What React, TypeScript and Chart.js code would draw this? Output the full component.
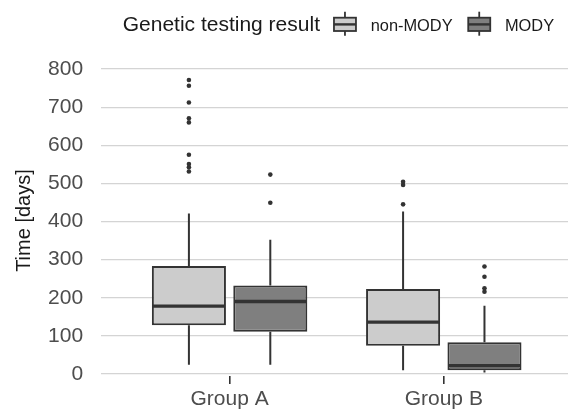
import React, { useEffect, useRef } from "react";
import { Chart, registerables } from "chart.js";

Chart.register(...registerables);

// ---- Data ----
const GROUPS = ["Group A", "Group B"];
const GROUP_POS = [1, 2];
const SERIES_NAMES = ["non-MODY", "MODY"];

const NON_MODY_LOW = [24, 10];
const NON_MODY_Q1 = [128, 74];
const NON_MODY_MEDIAN = [178, 136];
const NON_MODY_Q3 = [283, 223];
const NON_MODY_HIGH = [421, 426];
const NON_MODY_OUTLIERS = [
  [531, 542, 551, 575, 660, 671, 712, 756, 771],
  [445, 496, 504],
];

const MODY_LOW = [24, 4];
const MODY_Q1 = [111, 10];
const MODY_MEDIAN = [190, 22];
const MODY_Q3 = [232, 83];
const MODY_HIGH = [352, 179];
const MODY_OUTLIERS = [
  [449, 523],
  [216, 225, 255, 282],
];

const Y_TICKS = [0, 100, 200, 300, 400, 500, 600, 700, 800];

// ---- Styles ----
const FONT = "'Liberation Sans', Arial, sans-serif";
const LIGHT = "#cccccc";
const DARK = "#7f7f7f";
const LINE = "#333333";
const CAT_PCT = 0.76;
const BAR_PCT = 0.91;

const SERIES = [
  { name: SERIES_NAMES[0], fill: LIGHT, low: NON_MODY_LOW, q1: NON_MODY_Q1, med: NON_MODY_MEDIAN, q3: NON_MODY_Q3, high: NON_MODY_HIGH, out: NON_MODY_OUTLIERS },
  { name: SERIES_NAMES[1], fill: DARK, low: MODY_LOW, q1: MODY_Q1, med: MODY_MEDIAN, q3: MODY_Q3, high: MODY_HIGH, out: MODY_OUTLIERS },
];

const boxExtras = {
  id: "boxExtras",
  beforeDatasetsDraw(chart: any) {
    const ctx = chart.ctx;
    const y = chart.scales.y;
    ctx.save();
    ctx.strokeStyle = LINE;
    ctx.lineWidth = 2;
    SERIES.forEach((s, di) => {
      const meta = chart.getDatasetMeta(di);
      meta.data.forEach((el: any, i: number) => {
        const x = el.x;
        ctx.beginPath();
        ctx.moveTo(x, y.getPixelForValue(s.q3[i]));
        ctx.lineTo(x, y.getPixelForValue(s.high[i]));
        ctx.moveTo(x, y.getPixelForValue(s.q1[i]));
        ctx.lineTo(x, y.getPixelForValue(s.low[i]));
        ctx.stroke();
      });
    });
    ctx.restore();
  },
  afterDatasetsDraw(chart: any) {
    const ctx = chart.ctx;
    const y = chart.scales.y;
    ctx.save();
    ctx.strokeStyle = LINE;
    ctx.lineWidth = 3.4;
    SERIES.forEach((s, di) => {
      const meta = chart.getDatasetMeta(di);
      meta.data.forEach((el: any, i: number) => {
        const x = el.x;
        const w = el.width;
        const py = y.getPixelForValue(s.med[i]);
        ctx.beginPath();
        ctx.moveTo(x - w / 2 + 1, py);
        ctx.lineTo(x + w / 2 - 1, py);
        ctx.stroke();
      });
    });
    ctx.restore();
  },
};

const legendPlugin = {
  id: "ggLegend",
  afterDraw(chart: any) {
    const ctx = chart.ctx;
    ctx.save();
    const baseY = 31.3;
    let x = 122.7;
    ctx.textBaseline = "alphabetic";
    ctx.textAlign = "left";
    ctx.fillStyle = "#1a1a1a";
    ctx.font = `21px ${FONT}`;
    const title = "Genetic testing result";
    ctx.fillText(title, x, baseY);
    x += ctx.measureText(title).width + 14;
    ctx.font = `16.4px ${FONT}`;
    SERIES.forEach((s) => {
      const kx = x, kw = 22;
      const cx = kx + kw / 2;
      ctx.strokeStyle = LINE;
      ctx.lineWidth = 1.8;
      ctx.beginPath();
      ctx.moveTo(cx, 11.7);
      ctx.lineTo(cx, 35.7);
      ctx.stroke();
      ctx.fillStyle = s.fill;
      ctx.fillRect(kx, 17.7, kw, 13.3);
      ctx.strokeRect(kx, 17.7, kw, 13.3);
      ctx.lineWidth = 2.4;
      ctx.beginPath();
      ctx.moveTo(kx, 24.4);
      ctx.lineTo(kx + kw, 24.4);
      ctx.stroke();
      x += kw + 14.7;
      ctx.fillStyle = "#1a1a1a";
      ctx.fillText(s.name, x, 30.5);
      x += ctx.measureText(s.name).width + 15.6;
    });
    ctx.restore();
  },
};

export default function App() {
  const ref = useRef<HTMLCanvasElement | null>(null);
  useEffect(() => {
    if (!ref.current) return;
    const dodge = CAT_PCT / 4;
    const barSets = SERIES.map((s) => ({
      type: "bar" as const,
      label: s.name,
      data: GROUP_POS.map((g, i) => ({ x: g, y: [s.q1[i], s.q3[i]] })),
      backgroundColor: s.fill,
      borderColor: LINE,
      borderWidth: 2,
      borderSkipped: false,
      categoryPercentage: CAT_PCT,
      barPercentage: BAR_PCT,
    }));
    const pointSets = SERIES.map((s, si) => ({
      type: "scatter" as const,
      label: s.name + " outliers",
      data: GROUP_POS.flatMap((g, gi) =>
        s.out[gi].map((v) => ({ x: g + (si === 0 ? -dodge : dodge), y: v }))
      ),
      pointRadius: 2.3,
      pointBackgroundColor: LINE,
      pointBorderWidth: 0,
      showLine: false,
    }));
    const chart = new Chart(ref.current, {
      type: "bar",
      data: { datasets: [...barSets, ...pointSets] as any },
      plugins: [boxExtras, legendPlugin],
      options: {
        animation: false,
        responsive: true,
        maintainAspectRatio: false,
        events: [],
        layout: { padding: { top: 65.2, left: 0, right: 0, bottom: 0 } },
        plugins: { legend: { display: false }, tooltip: { enabled: false } },
        scales: {
          x: {
            type: "linear",
            min: 0.4,
            max: 2.58,
            offset: false,
            afterBuildTicks: (scale: any) => {
              scale.ticks = GROUP_POS.map((v) => ({ value: v }));
            },
            afterFit: (scale: any) => {
              scale.height = 35.1;
            },
            ticks: {
              callback: (v: any) => GROUPS[GROUP_POS.indexOf(Number(v))] ?? "",
              color: "#4d4d4d",
              font: { family: FONT, size: 21 },
              padding: 3,
              maxRotation: 0,
              autoSkip: false,
            },
            grid: {
              offset: false,
              drawOnChartArea: false,
              drawTicks: true,
              tickLength: 8,
              color: LINE,
              lineWidth: 1.6,
            },
            border: { display: false },
          },
          y: {
            type: "linear",
            min: -5,
            max: 810,
            afterBuildTicks: (scale: any) => {
              scale.ticks = Y_TICKS.map((v) => ({ value: v }));
            },
            afterFit: (scale: any) => {
              scale.width = 101.1;
            },
            ticks: {
              color: "#4d4d4d",
              font: { family: FONT, size: 21 },
              padding: 18,
            },
            grid: {
              color: "#d4d4d4",
              lineWidth: 1.2,
              drawTicks: false,
            },
            border: { display: false },
            title: {
              display: true,
              text: "Time [days]",
              color: "#1a1a1a",
              font: { family: FONT, size: 20 },
              padding: { top: 12, bottom: 0 },
            },
          },
        },
      },
    });
    return () => chart.destroy();
  }, []);
  return (
    <div style={{ position: "absolute", left: 0, top: 0, width: 572, height: 411, background: "#ffffff" }}>
      <canvas ref={ref} />
    </div>
  );
}
